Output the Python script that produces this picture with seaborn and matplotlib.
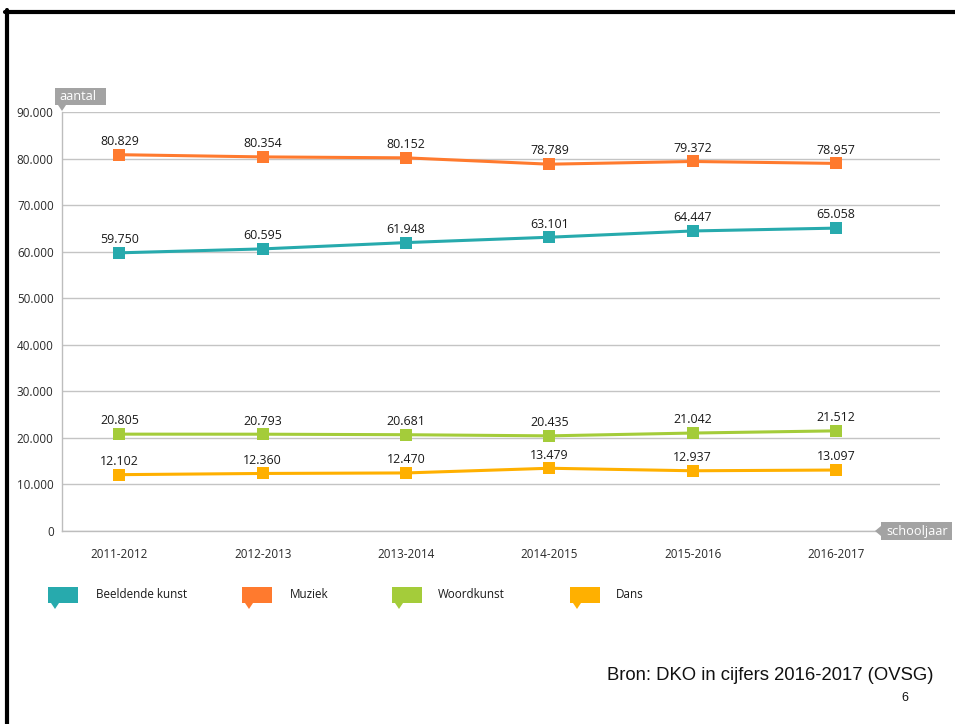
import numpy as np
import pandas as pd
import seaborn as sns
import matplotlib.pyplot as plt
from matplotlib.patches import Rectangle, Polygon
from matplotlib.lines import Line2D
from matplotlib.ticker import FuncFormatter, MultipleLocator

# ---- data ----
years = ["2011-2012", "2012-2013", "2013-2014", "2014-2015", "2015-2016", "2016-2017"]
series_names = ["Beeldende kunst", "Muziek", "Woordkunst", "Dans"]
beeldende_kunst = [59750, 60595, 61948, 63101, 64447, 65058]
muziek = [80829, 80354, 80152, 78789, 79372, 78957]
woordkunst = [20805, 20793, 20681, 20435, 21042, 21512]
dans = [12102, 12360, 12470, 13479, 12937, 13097]
colors = ["#27AAAD", "#FF7A2E", "#A4CC3A", "#FFB000"]

values = [beeldende_kunst, muziek, woordkunst, dans]
df = pd.DataFrame(
    [(s, y, v) for s, vals in zip(series_names, values) for y, v in zip(years, vals)],
    columns=["reeks", "schooljaar", "aantal"],
)

sns.set_theme(style="white")
plt.rcParams["font.family"] = ["Open Sans", "DejaVu Sans"]

W, H = 955, 724
fig = plt.figure(figsize=(W / 100, H / 100), dpi=100)

def fx(x):
    return x / W

def fy(y):
    return 1 - y / H

ax = fig.add_axes([fx(62), fy(531), fx(940) - fx(62), fy(112) - fy(531)])

sns.lineplot(
    data=df, x="schooljaar", y="aantal", hue="reeks", hue_order=series_names,
    palette=colors, marker="s", markersize=9, markeredgewidth=0, linewidth=2.2,
    legend=False, ax=ax, sort=False,
)

ax.set_ylim(0, 90000)
ax.set_xlim(-0.4, 5.725)
ax.yaxis.set_major_locator(MultipleLocator(10000))
ax.yaxis.set_major_formatter(FuncFormatter(lambda v, p: f"{int(v):,}".replace(",", ".")))
ax.grid(axis="y", color="#C4C4C4", linewidth=1)
ax.set_axisbelow(True)
for s in ["top", "right"]:
    ax.spines[s].set_visible(False)
ax.spines["bottom"].set_color("#BDBDBD")
ax.spines["bottom"].set_linewidth(1)
ax.spines["left"].set_color("#BDBDBD")
ax.spines["left"].set_linewidth(1)
ax.tick_params(axis="both", length=0, labelsize=8.4, colors="#2a2a2a")
ax.tick_params(axis="y", pad=6)
ax.tick_params(axis="x", pad=12)
ax.set_xlabel("")
ax.set_ylabel("")

# data labels
for s, vals in zip(series_names, values):
    for i, v in enumerate(vals):
        ax.annotate(f"{v:,}".replace(",", "."), (i, v), xytext=(0, 9.5),
                    textcoords="offset points", ha="center", va="center",
                    fontsize=8.9, color="#1a1a1a")

# axis name boxes
gray = "#A3A3A3"
fig.patches.append(Rectangle((fx(55), fy(105)), fx(106) - fx(55), fy(88) - fy(105),
                             transform=fig.transFigure, facecolor=gray, edgecolor="none"))
fig.patches.append(Polygon([[fx(58), fy(105)], [fx(66), fy(105)], [fx(62), fy(111)]],
                           closed=True, transform=fig.transFigure, facecolor=gray, edgecolor="none"))
fig.text(fx(59), fy(96.5), "aantal", color="white", fontsize=9.2, va="center", ha="left")

fig.patches.append(Rectangle((fx(881), fy(540)), fx(952) - fx(881), fy(522) - fy(540),
                             transform=fig.transFigure, facecolor=gray, edgecolor="none"))
fig.patches.append(Polygon([[fx(881), fy(526)], [fx(881), fy(536)], [fx(875), fy(531)]],
                           closed=True, transform=fig.transFigure, facecolor=gray, edgecolor="none"))
fig.text(fx(886), fy(531), "schooljaar", color="white", fontsize=9.2, va="center", ha="left")

# legend with speech-bubble swatches
leg_x = [48, 242, 392, 570]
txt_x = [96, 290, 438, 616]
for name, c, lx, tx in zip(series_names, colors, leg_x, txt_x):
    fig.patches.append(Rectangle((fx(lx), fy(603)), fx(30), fy(587) - fy(603),
                                 transform=fig.transFigure, facecolor=c, edgecolor="none"))
    fig.patches.append(Polygon([[fx(lx + 3), fy(603)], [fx(lx + 11), fy(603)], [fx(lx + 7), fy(609)]],
                               closed=True, transform=fig.transFigure, facecolor=c, edgecolor="none"))
    fig.text(fx(tx), fy(595), name, fontsize=8.4, color="#1a1a1a", va="center", ha="left")

# source + page number
fig.text(fx(933), fy(676), "Bron: DKO in cijfers 2016-2017 (OVSG)", fontsize=13.3,
         family=["Liberation Sans", "DejaVu Sans"], ha="right", va="center", color="#111111")
fig.text(fx(905), fy(698), "6", fontsize=9, family=["Liberation Sans", "DejaVu Sans"],
         ha="center", va="center", color="#111111")

# slide border (top and left)
fig.add_artist(Line2D([fx(5), 1], [fy(11.5), fy(11.5)], transform=fig.transFigure,
                      color="black", linewidth=3))
fig.add_artist(Line2D([fx(6.5), fx(6.5)], [fy(10), 0], transform=fig.transFigure,
                      color="black", linewidth=3))

fig.savefig("out.png", dpi=100)
